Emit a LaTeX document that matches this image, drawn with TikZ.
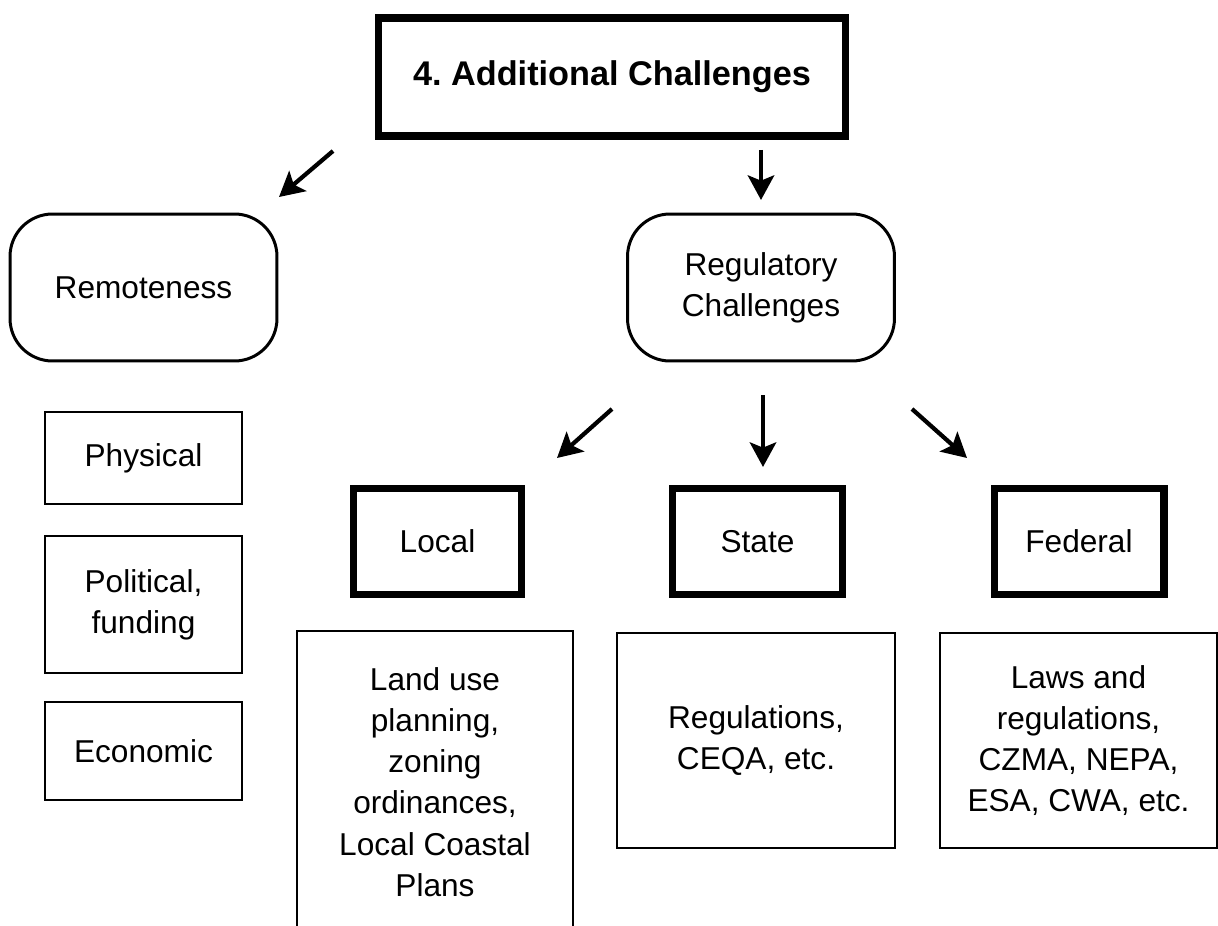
\documentclass[tikz,border=0pt]{standalone}
\usepackage{fontspec}
\setmainfont{Liberation Sans}
\usetikzlibrary{arrows.meta}

\begin{document}
\begin{tikzpicture}[x=0.02cm,y=-0.02cm,
		txt/.style={font=\fontsize{18}{23.5}\selectfont, align=center, inner sep=0pt},
		thinbox/.style={txt, draw, line width=1.2pt},
		thickbox/.style={txt, draw, line width=4pt},
		roundbox/.style={txt, draw, line width=1.7pt, rounded corners=0.85cm},
		arr/.style={-{Stealth[length=14pt,width=15pt,inset=3pt]}, line width=2.4pt}]

			\useasboundingbox (0,0) rectangle (1218,926);

			\node [thickbox, minimum width=9.36cm, minimum height=2.36cm, font=\fontsize{19.5}{24}\selectfont\bfseries] (title) at (612,77) {4.\ Additional Challenges};

			\node [roundbox, minimum width=5.34cm, minimum height=2.94cm] (remote) at (143.5,287.5) {Remoteness};
			\node [roundbox, minimum width=5.34cm, minimum height=2.94cm] (reg) at (761,287.5) {Regulatory\\Challenges};

			\node [thinbox, minimum width=3.94cm, minimum height=1.84cm] (phys) at (143.5,458) {Physical};
			\node [thinbox, minimum width=3.94cm, minimum height=2.74cm] (polit) at (143.5,604.5) {Political,\\funding};
			\node [thinbox, minimum width=3.94cm, minimum height=1.96cm] (econ) at (143.5,751) {Economic};

			\node [thickbox, minimum width=3.36cm, minimum height=2.12cm] (local) at (437.5,541.5) {Local};
			\node [thickbox, minimum width=3.4cm, minimum height=2.12cm] (state) at (757.5,541.5) {State};
			\node [thickbox, minimum width=3.4cm, minimum height=2.12cm] (fed) at (1079,541.5) {Federal};

			\node [thinbox, minimum width=5.52cm, minimum height=6.04cm] (landuse) at (435,782) {Land use\\planning,\\zoning\\ordinances,\\Local Coastal\\Plans};
			\node [thinbox, minimum width=5.56cm, minimum height=4.3cm] (regs) at (756,740.5) {Regulations,\\CEQA, etc.};
			\node [thinbox, minimum width=5.54cm, minimum height=4.3cm] (laws) at (1078.5,740.5) {Laws and\\regulations,\\CZMA, NEPA,\\ESA, CWA, etc.};

			% arrow ends
			\coordinate (t1) at (333,151);
			\coordinate (h1) at (279,197);
			\coordinate (t2) at (761,150);
			\coordinate (h2) at (761,200);
			\coordinate (t3) at (612,409);
			\coordinate (h3) at (557,458);
			\coordinate (t4) at (763,395);
			\coordinate (h4) at (763,467);
			\coordinate (t5) at (912,409);
			\coordinate (h5) at (967,458);

			\draw [arr] (t1) -- (h1);
			\draw [arr] (t2) -- (h2);
			\draw [arr] (t3) -- (h3);
			\draw [arr] (t4) -- (h4);
			\draw [arr] (t5) -- (h5);

		\end{tikzpicture}
\end{document}
